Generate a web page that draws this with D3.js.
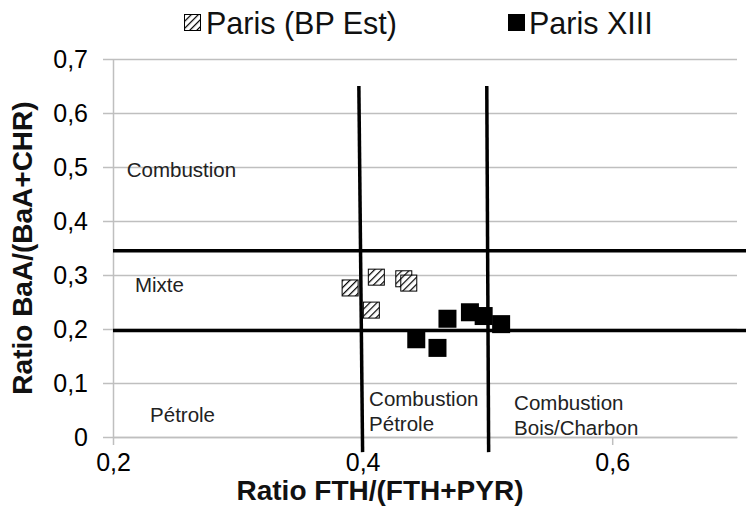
<!DOCTYPE html>
<html><head><meta charset="utf-8">
<script src="https://cdn.jsdelivr.net/npm/d3@7"></script>
<style>body{margin:0;background:#fff}svg{display:block;font-family:"Liberation Sans",Arial,sans-serif}</style>
</head><body><svg id="c" width="746" height="514"></svg>
<script>
// Data
const seriesNames = ["Paris (BP Est)", "Paris XIII"];
const bpEstX = [0.390, 0.411, 0.433, 0.437, 0.407];
const bpEstY = [0.276, 0.296, 0.293, 0.285, 0.235];
const p13X = [0.468, 0.486, 0.497, 0.511, 0.443, 0.460];
const p13Y = [0.219, 0.231, 0.224, 0.209, 0.181, 0.165];
const xTicks = [0.2, 0.4, 0.6];
const yTicks = [0, 0.1, 0.2, 0.3, 0.4, 0.5, 0.6, 0.7];
const xTickLabels = ["0,2", "0,4", "0,6"];
const yTickLabels = ["0", "0,1", "0,2", "0,3", "0,4", "0,5", "0,6", "0,7"];
// threshold lines (data units)
const vLineX = [[0.397, 0.400], [0.4995, 0.501]];
const vLineY = [0.65, -0.028];
const hLineY = [0.345, 0.197];
const hLineX = [0.2, 0.71];
// zone labels
const zoneLabels = [
  {lines: ["Combustion"], x: 0.211, y: 0.496},
  {lines: ["Mixte"], x: 0.2176, y: 0.283},
  {lines: ["Pétrole"], x: 0.2297, y: 0.043},
  {lines: ["Combustion", "Pétrole"], x: 0.4052, y: 0.072},
  {lines: ["Combustion", "Bois/Charbon"], x: 0.5214, y: 0.065}
];

const svg = d3.select("#c");
const x = d3.scaleLinear().domain([0.2, 0.7]).range([113, 737]);
const y = d3.scaleLinear().domain([0, 0.7]).range([437, 59]);
const grid = "#bfbfbf";

// pattern
const defs = svg.append("defs");
const pat = defs.append("pattern").attr("id", "hatch").attr("patternUnits", "userSpaceOnUse")
  .attr("width", 5).attr("height", 5).attr("patternTransform", "rotate(45)");
pat.append("rect").attr("width", 5).attr("height", 5).attr("fill", "#fff");
pat.append("line").attr("x1", 0).attr("y1", 0).attr("x2", 0).attr("y2", 5)
  .attr("stroke", "#000").attr("stroke-width", 2.4);

// gridlines
const gy = svg.append("g").attr("transform", "translate(737,0)")
  .call(d3.axisLeft(y).tickValues(yTicks).tickSize(634).tickFormat(""));
gy.select(".domain").remove();
gy.selectAll("line").attr("stroke", grid).attr("stroke-width", 1.5);

// y labels
const ly = svg.append("g").attr("transform", "translate(113,0)")
  .call(d3.axisLeft(y).tickValues(yTicks).tickSize(0).tickPadding(25)
    .tickFormat((d, i) => yTickLabels[i]));
ly.select(".domain").attr("stroke", grid).attr("stroke-width", 1.5);
ly.selectAll("text").attr("font-size", 25).attr("fill", "#000").attr("font-family", "Liberation Sans, Arial");

// x axis
const ax = svg.append("g").attr("transform", "translate(0,437)")
  .call(d3.axisBottom(x).tickValues(xTicks).tickSizeInner(8).tickSizeOuter(0).tickPadding(8)
    .tickFormat((d, i) => xTickLabels[i]));
ax.select(".domain").attr("stroke", grid).attr("stroke-width", 1.5);
ax.selectAll("line").attr("stroke", grid).attr("stroke-width", 1.5);
ax.selectAll("text").attr("font-size", 25).attr("fill", "#000").attr("font-family", "Liberation Sans, Arial");

// threshold lines
svg.append("g").selectAll("line").data(vLineX).join("line")
  .attr("x1", d => x(d[0])).attr("x2", d => x(d[1]))
  .attr("y1", y(vLineY[0])).attr("y2", y(vLineY[1]))
  .attr("stroke", "#000").attr("stroke-width", 3.5);
svg.append("g").selectAll("line").data(hLineY).join("line")
  .attr("x1", x(hLineX[0])).attr("x2", x(hLineX[1]))
  .attr("y1", d => y(d)).attr("y2", d => y(d))
  .attr("stroke", "#000").attr("stroke-width", 3.5);

// zone labels
const zl = svg.append("g").attr("font-size", 20.5).attr("fill", "#222");
zoneLabels.forEach(l => {
  const t = zl.append("text").attr("x", x(l.x)).attr("y", y(l.y)).attr("dominant-baseline", "central");
  l.lines.forEach((s, i) => t.append("tspan").attr("x", x(l.x)).attr("dy", i ? 25 : 0).text(s));
});

// points
const bp = bpEstX.map((v, i) => ({x: v, y: bpEstY[i]}));
const p13 = p13X.map((v, i) => ({x: v, y: p13Y[i]}));
svg.append("g").selectAll("rect").data(bp).join("rect")
  .attr("x", d => x(d.x) - 8).attr("y", d => y(d.y) - 8).attr("width", 16).attr("height", 16)
  .attr("fill", "url(#hatch)").attr("stroke", "#000").attr("stroke-width", 1);
svg.append("g").selectAll("rect").data(p13).join("rect")
  .attr("x", d => x(d.x) - 9).attr("y", d => y(d.y) - 9).attr("width", 18).attr("height", 18)
  .attr("fill", "#000");

// legend
const lg = svg.append("g");
lg.append("rect").attr("x", 184.5).attr("y", 14.5).attr("width", 16).attr("height", 16)
  .attr("fill", "url(#hatch)").attr("stroke", "#000").attr("stroke-width", 1);
lg.append("text").attr("x", 206).attr("y", 23).attr("dominant-baseline", "central")
  .attr("font-size", 30.5).attr("fill", "#111").text(seriesNames[0]);
lg.append("rect").attr("x", 508).attr("y", 14).attr("width", 17).attr("height", 17).attr("fill", "#000");
lg.append("text").attr("x", 529).attr("y", 23).attr("dominant-baseline", "central")
  .attr("font-size", 30.5).attr("fill", "#111").text(seriesNames[1]);

// axis titles
svg.append("text").attr("x", 380).attr("y", 490).attr("text-anchor", "middle").attr("dominant-baseline", "central")
  .attr("font-size", 28).attr("font-weight", "bold").attr("fill", "#111").text("Ratio FTH/(FTH+PYR)");
svg.append("text").attr("transform", "translate(22,248) rotate(-90)").attr("text-anchor", "middle")
  .attr("dominant-baseline", "central")
  .attr("font-size", 28).attr("font-weight", "bold").attr("fill", "#111").text("Ratio BaA/(BaA+CHR)");
</script></body></html>
